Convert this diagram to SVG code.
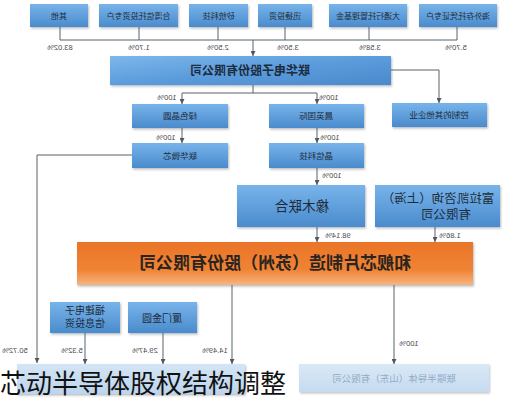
<svg xmlns="http://www.w3.org/2000/svg" width="508" height="400" viewBox="0 0 508 400">
<defs>
<linearGradient id="gb" x1="0" y1="0" x2="0" y2="1"><stop offset="0" stop-color="#78b4ea"/><stop offset="1" stop-color="#4a8bcd"/></linearGradient>
<linearGradient id="gbar" x1="0" y1="0" x2="1" y2="1"><stop offset="0" stop-color="#7db7ea"/><stop offset="0.5" stop-color="#5b9cdc"/><stop offset="1" stop-color="#4a89cc"/></linearGradient>
<linearGradient id="go" x1="0" y1="0" x2="0" y2="1"><stop offset="0" stop-color="#ea7428"/><stop offset="0.65" stop-color="#f08434"/><stop offset="1" stop-color="#f6b482"/></linearGradient>
<linearGradient id="gl" x1="0" y1="0" x2="0" y2="1"><stop offset="0" stop-color="#d4e5f5"/><stop offset="1" stop-color="#bcd5ee"/></linearGradient>
<filter id="sh" x="-10%" y="-20%" width="125%" height="150%"><feDropShadow dx="1" dy="1.5" stdDeviation="1" flood-color="#4a5260" flood-opacity="0.4"/></filter>
<marker id="ar" markerUnits="userSpaceOnUse" markerWidth="5" markerHeight="5" refX="5" refY="2.5" orient="auto"><path d="M0,0 L5,2.5 L0,5 z" fill="#4f5862"/></marker>
<style>
.b{fill:url(#gb);filter:url(#sh)}
.t{font-family:"Noto Sans CJK SC","Noto Sans",sans-serif;fill:#1e2b3a;text-anchor:middle}
.p{font-family:"Liberation Sans",sans-serif;font-size:7.5px;fill:#4a4a4a;text-anchor:middle}
.c{fill:none;stroke:#59626c;stroke-width:1}
.a{marker-end:url(#ar)}
</style>
</defs>
<rect width="508" height="400" fill="#ffffff"/>

<g id="connectors">
<path class="c" d="M60,27V40M139,27V40M218,27V40M285,27V40M369,27V40M457,27V40M60,40H457"/>
<path class="c a" d="M253,40V56"/>
<path class="c a" d="M391,70H439V103"/>
<path class="c" d="M253,85V93M182,93H317"/>
<path class="c a" d="M182,93V104"/>
<path class="c a" d="M317,93V104"/>
<path class="c a" d="M182,128V143"/>
<path class="c a" d="M317,128V143"/>
<path class="c a" d="M317,168V185"/>
<path class="c a" d="M132,155H37V363"/>
<path class="c a" d="M317,227V242"/>
<path class="c a" d="M435,227V242"/>
<path class="c a" d="M232,285V364"/>
<path class="c a" d="M394,285V364"/>
<path class="c a" d="M85,333V364"/>
<path class="c a" d="M163,333V364"/>
<text class="p" x="60" y="49.5" transform="matrix(-1 0 0 1 120 0)">83.02%</text>
<text class="p" x="139" y="49.5" transform="matrix(-1 0 0 1 278 0)">1.70%</text>
<text class="p" x="218" y="49.5" transform="matrix(-1 0 0 1 436 0)">2.50%</text>
<text class="p" x="288" y="49.5" transform="matrix(-1 0 0 1 576 0)">3.50%</text>
<text class="p" x="370" y="49.5" transform="matrix(-1 0 0 1 740 0)">3.58%</text>
<text class="p" x="456" y="49.5" transform="matrix(-1 0 0 1 912 0)">5.70%</text>
<text class="p" x="167" y="99.5" transform="matrix(-1 0 0 1 334 0)">100%</text>
<text class="p" x="329" y="99.5" transform="matrix(-1 0 0 1 658 0)">100%</text>
<text class="p" x="166" y="139.5" transform="matrix(-1 0 0 1 332 0)">100%</text>
<text class="p" x="330" y="139.5" transform="matrix(-1 0 0 1 660 0)">100%</text>
<text class="p" x="332" y="177.5" transform="matrix(-1 0 0 1 664 0)">100%</text>
<text class="p" x="338" y="237.5" transform="matrix(-1 0 0 1 676 0)">98.14%</text>
<text class="p" x="450" y="237.5" transform="matrix(-1 0 0 1 900 0)">1.86%</text>
<text class="p" x="15" y="352.5" transform="matrix(-1 0 0 1 30 0)">50.72%</text>
<text class="p" x="72" y="352.5" transform="matrix(-1 0 0 1 144 0)">5.32%</text>
<text class="p" x="145" y="352.5" transform="matrix(-1 0 0 1 290 0)">29.47%</text>
<text class="p" x="215" y="352.5" transform="matrix(-1 0 0 1 430 0)">14.49%</text>
<text class="p" x="409" y="345.5" transform="matrix(-1 0 0 1 818 0)">100%</text>
</g>

<g id="n-qita"><rect class="b" x="30" y="4" width="58" height="23"/><text class="t" font-size="8" x="59" y="18.5" transform="matrix(-1 0 0 1 118 0)">其他</text></g>
<g id="n-taiwan"><rect class="b" x="99" y="4" width="79" height="23"/><text class="t" font-size="8" x="138.5" y="18.5" transform="matrix(-1 0 0 1 277 0)">台湾信托投资专户</text></g>
<g id="n-xitong"><rect class="b" x="189" y="4" width="59" height="23"/><text class="t" font-size="8" x="218.5" y="18.5" transform="matrix(-1 0 0 1 437 0)">矽统科技</text></g>
<g id="n-xunjie"><rect class="b" x="258" y="4" width="54" height="23"/><text class="t" font-size="8" x="285" y="18.5" transform="matrix(-1 0 0 1 570 0)">迅捷投资</text></g>
<g id="n-datong"><rect class="b" x="329" y="4" width="78" height="23"/><text class="t" font-size="8" x="368" y="18.5" transform="matrix(-1 0 0 1 736 0)">大通行托管理基金</text></g>
<g id="n-haiwai"><rect class="b" x="419" y="4" width="78" height="23"/><text class="t" font-size="8" x="458" y="18.5" transform="matrix(-1 0 0 1 916 0)">海外存托凭证专户</text></g>

<g id="n-umc"><rect x="110" y="56" width="281" height="29" fill="url(#gbar)" filter="url(#sh)"/><text class="t" font-size="12" font-weight="bold" x="250" y="74.5" transform="matrix(-1 0 0 1 500 0)">联华电子股份有限公司</text></g>
<g id="n-other"><rect class="b" x="392" y="103" width="95" height="24"/><text class="t" font-size="8.5" x="439" y="118" transform="matrix(-1 0 0 1 878 0)">控制的其他企业</text></g>

<g id="n-lvse"><rect class="b" x="132" y="104" width="96" height="24"/><text class="t" font-size="8.5" x="180" y="119" transform="matrix(-1 0 0 1 360 0)">绿色晶圆</text></g>
<g id="n-lianhua"><rect class="b" x="132" y="143" width="96" height="25"/><text class="t" font-size="8.5" x="180" y="158.5" transform="matrix(-1 0 0 1 360 0)">联华微芯</text></g>
<g id="n-chenying"><rect class="b" x="269" y="104" width="95" height="24"/><text class="t" font-size="8.5" x="316" y="119" transform="matrix(-1 0 0 1 632 0)">晨英国际</text></g>
<g id="n-jingxin"><rect class="b" x="269" y="143" width="95" height="25"/><text class="t" font-size="8.5" x="316" y="158.5" transform="matrix(-1 0 0 1 632 0)">晶信科技</text></g>

<g id="n-xiangmu"><rect class="b" x="237" y="185" width="128" height="42"/><text class="t" font-size="13.5" x="302" y="211" transform="matrix(-1 0 0 1 604 0)">橡木联合</text></g>
<g id="n-fulakai"><rect class="b" x="375" y="185" width="125" height="42"/><text class="t" font-size="12.5" x="438" y="203" transform="matrix(-1 0 0 1 876 0)">富拉凯咨询（上海）</text><text class="t" font-size="12.5" x="446" y="219" transform="matrix(-1 0 0 1 892 0)">有限公司</text></g>

<g id="n-hejian"><rect x="77" y="242" width="396" height="43" fill="url(#go)" filter="url(#sh)"/><text class="t" font-size="17" font-weight="bold" fill="#2a2420" x="275" y="269" transform="matrix(-1 0 0 1 550 0)" style="fill:#2a2420">和舰芯片制造（苏州）股份有限公司</text></g>

<g id="n-fujian"><rect class="b" x="50" y="302" width="70" height="31"/><text class="t" font-size="10" x="85" y="314" transform="matrix(-1 0 0 1 170 0)">福建电子</text><text class="t" font-size="10" x="85" y="327" transform="matrix(-1 0 0 1 170 0)">信息投资</text></g>
<g id="n-xiamen"><rect class="b" x="128" y="302" width="69" height="31"/><text class="t" font-size="10" x="162" y="321.5" transform="matrix(-1 0 0 1 324 0)">厦门金圆</text></g>

<g id="n-lianxin"><rect x="17" y="364" width="228" height="30" fill="url(#gl)" filter="url(#sh)"/></g>
<g id="n-lianjing"><rect x="299" y="364" width="190" height="28" fill="url(#gl)" filter="url(#sh)" opacity="0.85"/><text class="t" font-size="9.5" x="394" y="381.5" transform="matrix(-1 0 0 1 788 0)" style="fill:#93acc6">联暻半导体（山东）有限公司</text></g>

<text x="0" y="393" font-family="Noto Sans CJK SC, sans-serif" font-size="26" fill="#111111">芯动半导体股权结构调整</text>
</svg>
